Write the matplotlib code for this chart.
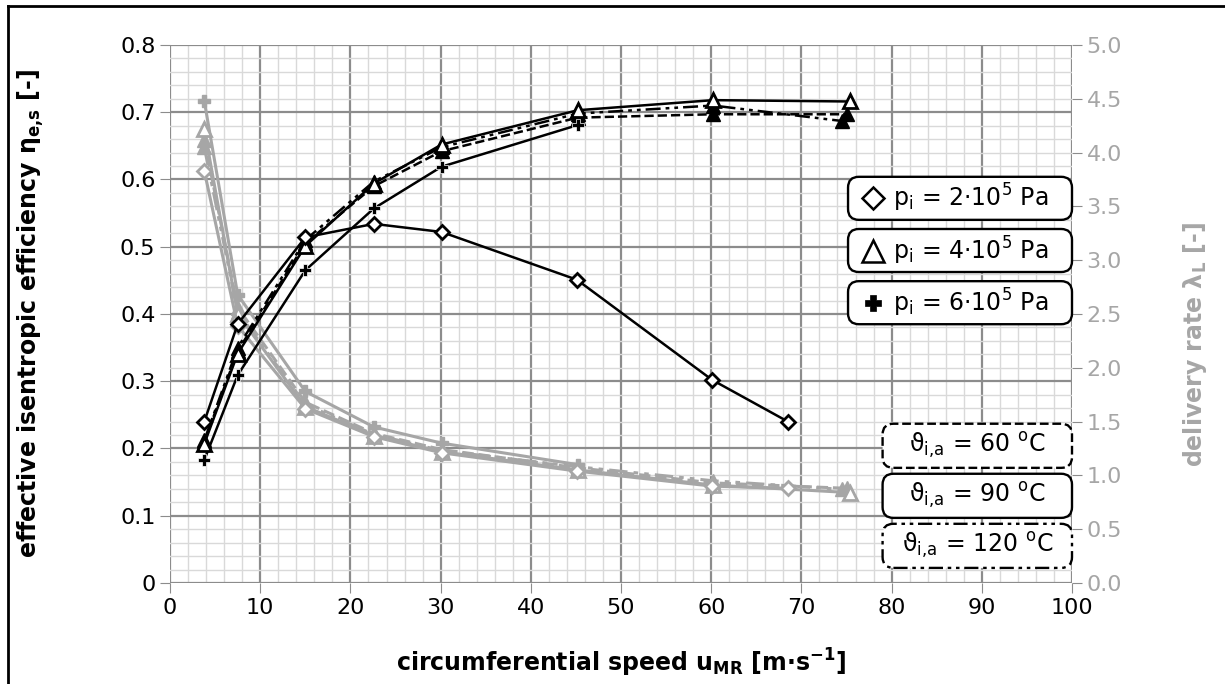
import matplotlib
matplotlib.use("Agg")
import matplotlib.pyplot as plt
from matplotlib.lines import Line2D
from matplotlib.patches import FancyBboxPatch
from matplotlib.ticker import MultipleLocator, FormatStrFormatter

plt.rcParams['font.family'] = ['DejaVu Sans']
plt.rcParams['mathtext.fontset'] = 'dejavusans'

# circumferential speed u_MR [m/s]
u_p2 = [3.8, 7.5, 15.0, 22.6, 30.1, 45.1, 60.1, 68.5]
u_p4 = [3.8, 7.5, 15.0, 22.6, 30.1, 45.2, 60.2, 75.4]
u_p4_60 = [3.8, 7.5, 15.0, 22.6, 30.1, 45.2, 60.2, 75.0]
u_p4_120 = [3.8, 7.5, 15.0, 22.6, 30.1, 45.2, 60.2, 74.5]
u_p6 = [3.8, 7.5, 15.0, 22.6, 30.1, 45.2]

# effective isentropic efficiency (left axis)
eta_p2 = [0.240, 0.385, 0.514, 0.534, 0.522, 0.451, 0.302, 0.240]
eta_p4_90 = [0.207, 0.341, 0.501, 0.594, 0.652, 0.703, 0.718, 0.716]
eta_p4_60 = [0.210, 0.345, 0.505, 0.590, 0.642, 0.692, 0.697, 0.697]
eta_p4_120 = [0.212, 0.350, 0.510, 0.597, 0.648, 0.698, 0.710, 0.687]
eta_p6 = [0.183, 0.309, 0.465, 0.557, 0.619, 0.681]

# delivery rate (right axis)
lam_p2 = [3.83, 2.39, 1.62, 1.36, 1.21, 1.04, 0.90, 0.88]
lam_p4_90 = [4.22, 2.50, 1.64, 1.37, 1.22, 1.05, 0.91, 0.84]
lam_p4_60 = [4.12, 2.56, 1.68, 1.39, 1.24, 1.07, 0.93, 0.88]
lam_p4_120 = [4.05, 2.52, 1.66, 1.38, 1.23, 1.08, 0.95, 0.87]
lam_p6 = [4.48, 2.68, 1.78, 1.45, 1.30, 1.10]

pressure_labels = ['2', '4', '6']
pressure_markers = ['D', '^', 'P']
temp_labels = ['60', '90', '120']

gray = '#A6A6A6'
dashdot = (0, (6, 2, 1.5, 2, 1.5, 2))
temp_styles = ['--', '-', dashdot]

fig = plt.figure(figsize=(12.25, 6.84), dpi=100)
ax = fig.add_axes([0.1388, 0.1477, 0.7363, 0.7865])
ax2 = ax.twinx()

# grid
ax.set_xlim(0, 100)
ax.set_ylim(0, 0.8)
ax.xaxis.set_major_locator(MultipleLocator(10))
ax.xaxis.set_minor_locator(MultipleLocator(2))
ax.yaxis.set_major_locator(MultipleLocator(0.1))
ax.yaxis.set_minor_locator(MultipleLocator(0.02))
ax.grid(which='minor', color='#D9D9D9', lw=1.0)
ax.grid(which='major', color='#8C8C8C', lw=1.6)
ax.set_axisbelow(True)
for s in ax.spines.values():
    s.set_visible(False)
for s in ax2.spines.values():
    s.set_visible(False)
ax.tick_params(which='minor', length=0)
ax.tick_params(which='major', length=7, color='#8C8C8C', labelsize=16)
ax.set_yticks([0, 0.1, 0.2, 0.3, 0.4, 0.5, 0.6, 0.7, 0.8])
ax.set_yticklabels(['0', '0.1', '0.2', '0.3', '0.4', '0.5', '0.6', '0.7', '0.8'])

ax2.set_ylim(0, 5.0)
ax2.yaxis.set_major_locator(MultipleLocator(0.5))
ax2.yaxis.set_major_formatter(FormatStrFormatter('%.1f'))
ax2.tick_params(length=7, color='#8C8C8C', labelcolor=gray, labelsize=16)

# gray delivery rate lines (right axis)
ax2.plot(u_p4_60, lam_p4_60, color=gray, lw=2.2, ls='--', marker='^', ms=10, mfc=gray, mec=gray, zorder=2)
ax2.plot(u_p4_120, lam_p4_120, color=gray, lw=2.2, ls=dashdot, marker='^', ms=10, mfc=gray, mec=gray, zorder=2)
ax2.plot(u_p6, lam_p6, color=gray, lw=2.2, marker='P', ms=9, mfc=gray, mec=gray, zorder=2)
ax2.plot(u_p4, lam_p4_90, color=gray, lw=2.2, marker='^', ms=10, mfc='white', mec=gray, mew=2, zorder=2)
ax2.plot(u_p2, lam_p2, color=gray, lw=2.2, marker='D', ms=7, mfc='white', mec=gray, mew=2, zorder=2)

# black efficiency lines, put on the twin axes (scaled 0.8 -> 5.0) so they sit above the gray ones
def to_lam(vals):
    return [v * 6.25 for v in vals]

ax2.plot(u_p4_60, to_lam(eta_p4_60), color='black', lw=1.8, ls='--', marker='^', ms=10, mfc='black', mec='black', zorder=3)
ax2.plot(u_p4_120, to_lam(eta_p4_120), color='black', lw=1.8, ls=dashdot, marker='^', ms=10, mfc='black', mec='black', zorder=3)
ax2.plot(u_p6, to_lam(eta_p6), color='black', lw=1.8, marker='P', ms=9, mfc='black', mec='white', mew=0.5, zorder=4)
ax2.plot(u_p4, to_lam(eta_p4_90), color='black', lw=1.8, marker='^', ms=10, mfc='white', mec='black', mew=2, zorder=4)
ax2.plot(u_p2, to_lam(eta_p2), color='black', lw=1.8, marker='D', ms=7, mfc='white', mec='black', mew=2, zorder=4)

# legend boxes (axes fraction)
aspect = 902 / 538
def add_box(x0, y0, w, h, ls):
    p = FancyBboxPatch((x0, y0), w, h, boxstyle='round,pad=0,rounding_size=0.012',
                       mutation_aspect=aspect, transform=ax2.transAxes, fc='white',
                       ec='black', lw=1.7, ls=ls, zorder=10, clip_on=False)
    ax2.add_patch(p)

for i, (lbl, m) in enumerate(zip(pressure_labels, pressure_markers)):
    y0 = 0.675 - i * 0.097
    add_box(0.7517, y0, 0.2483, 0.080, '-')
    ax2.plot([0.779], [y0 + 0.040], transform=ax2.transAxes, marker=m,
             ms={'D': 11, '^': 16, 'P': 11}[m], mfc='white' if m != 'P' else 'black',
             mec='black', mew=1.8 if m != 'P' else 0.5, zorder=11, clip_on=False)
    ax2.text(0.801, y0 + 0.040, '$\\mathregular{p_i}$ = ' + lbl + '·10$^{\\mathregular{5}}$ Pa',
             transform=ax2.transAxes, fontsize=17, ha='left', va='center', zorder=11)

for i, (lbl, st) in enumerate(zip(temp_labels, temp_styles)):
    y0 = 0.214 - i * 0.093
    add_box(0.790, y0, 0.210, 0.082, st)
    ax2.text(0.895, y0 + 0.041, '$\\mathregular{ϑ_{i{,}a}}$ = ' + lbl + ' $^{\\mathregular{o}}$C',
             transform=ax2.transAxes, fontsize=17, ha='center', va='center', zorder=11)

ax.set_xlabel('circumferential speed u$_{\\mathregular{MR}}$ [m·s$^{\\mathregular{-1}}$]',
              fontsize=17, fontweight='bold')
ax.xaxis.set_label_coords(0.5, -0.119)
ax.set_ylabel('effective isentropic efficiency η$_{\\mathregular{e{,}s}}$ [-]',
              fontsize=17, fontweight='bold')
ax.yaxis.set_label_coords(-0.138, 0.5)
ax2.set_ylabel('delivery rate λ$_{\\mathregular{L}}$ [-]', fontsize=17, fontweight='bold', color=gray)
ax2.yaxis.set_label_coords(1.121, 0.444)

# page frame
fig.add_artist(Line2D([0.0065, 0.0065], [0, 0.991], color='black', lw=2))
fig.add_artist(Line2D([0.0065, 1.0], [0.991, 0.991], color='black', lw=2))

fig.savefig('out.png', dpi=100)
